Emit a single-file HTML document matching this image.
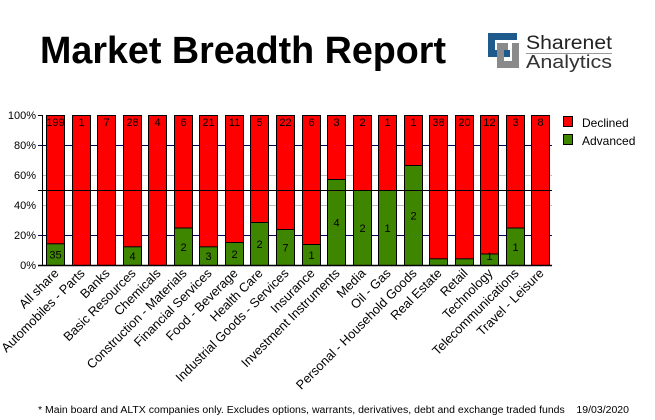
<!DOCTYPE html>
<html><head><meta charset="utf-8"><style>
html,body{margin:0;padding:0;background:#fff;}
svg{display:block;}
text{font-family:"Liberation Sans",sans-serif;}
</style></head><body>
<svg width="655" height="420" viewBox="0 0 655 420" xmlns="http://www.w3.org/2000/svg">
<rect width="655" height="420" fill="#fff"/>
<text x="40" y="63" font-size="38" font-weight="bold" textLength="406" lengthAdjust="spacingAndGlyphs">Market Breadth Report</text>
<!-- logo -->
<path d="M488 33H517V40H495V50H510V57H488Z" fill="#1f5a8c"/>
<path d="M512 43H519V68H497V61H512Z" fill="#8a8a8a"/>
<path d="M497 43H508V50H504V61H497Z" fill="#8a8a8a"/>
<text x="526" y="49" font-size="19" textLength="86" lengthAdjust="spacingAndGlyphs" fill="#222">Sharenet</text>
<line x1="526" y1="53.5" x2="612" y2="53.5" stroke="#999" stroke-width="1"/>
<text x="526" y="68" font-size="18" textLength="86" lengthAdjust="spacingAndGlyphs" fill="#333">Analytics</text>
<!-- grid -->
<g font-size="11" text-anchor="end">
<text x="36" y="119">100%</text><text x="36" y="149">80%</text><text x="36" y="179">60%</text>
<text x="36" y="209">40%</text><text x="36" y="239">20%</text><text x="36" y="269">0%</text>
</g>
<line x1="38" y1="145.5" x2="552" y2="145.5" stroke="#000060"/>
<line x1="38" y1="235.5" x2="552" y2="235.5" stroke="#000060"/>
<line x1="42" y1="175.5" x2="552" y2="175.5" stroke="#bbb"/>
<line x1="42" y1="205.5" x2="552" y2="205.5" stroke="#bbb"/>
<g id="bars" stroke="#000" stroke-width="1"></g>
<line x1="38" y1="190.5" x2="552" y2="190.5" stroke="#000"/>
<line x1="42.5" y1="115" x2="42.5" y2="266" stroke="#000"/>
<line x1="38" y1="265.5" x2="552" y2="265.5" stroke="#000" stroke-width="1.5"/>
<line x1="38" y1="115.5" x2="42" y2="115.5" stroke="#000"/>
<g id="labels" font-size="11"></g>
<!-- legend -->
<rect x="563.5" y="116.5" width="9" height="10" fill="#f00" stroke="#000"/>
<rect x="563.5" y="134.5" width="9" height="10" fill="#3f8600" stroke="#000"/>
<text x="582" y="127" font-size="12">Declined</text>
<text x="582" y="145" font-size="12">Advanced</text>
<text x="38" y="413" font-size="10" textLength="591" lengthAdjust="spacingAndGlyphs">* Main board and ALTX companies only. Excludes options, warrants, derivatives, debt and exchange traded funds &#160;&#160;&#160;19/03/2020</text>
</svg>
<script>
var d=[["All share",199,35,21.7],["Automobiles - Parts",1,"",0],["Banks",7,"",0],["Basic Resources",28,4,18.7],["Chemicals",4,"",0],["Construction - Materials",6,2,37.5],["Financial Services",21,3,18.7],["Food - Beverage",11,2,23],["Health Care",5,2,43],["Industrial Goods - Services",22,7,36],["Insurance",6,1,21],["Investment Instruments",3,4,86],["Media",2,2,75],["Oil - Gas",1,1,75],["Personal - Household Goods",1,2,100],["Real Estate",38,"",6.7],["Retail",20,"",6.7],["Technology",12,1,11.5],["Telecommunications",3,1,37.5],["Travel - Leisure",8,"",0]];
var ns="http://www.w3.org/2000/svg",b=document.getElementById("bars"),l=document.getElementById("labels");
function el(t,a,p,tx){var e=document.createElementNS(ns,t);for(var k in a)e.setAttribute(k,a[k]);if(tx!==undefined)e.textContent=tx;p.appendChild(e);return e;}
d.forEach(function(r,i){var x=Math.round(46+25.55*i)+0.5,cx=x+9,g=r[3];
el("rect",{x:x,y:115.5,width:18,height:150,fill:"#f00"},b);
if(g>0)el("rect",{x:x,y:265.5-g,width:18,height:g,fill:"#3f8600"},b);
el("text",{x:cx,y:126,"text-anchor":"middle","font-size":"11"},l,String(r[1]));
if(r[2]!=="")el("text",{x:cx,y:Math.min(265.5-g/2+4,260),"text-anchor":"middle","font-size":"11"},l,String(r[2]));
el("text",{x:cx+4,y:274,"text-anchor":"end","font-size":"12.8",transform:"rotate(-45 "+(cx+4)+" 274)"},l,r[0]);
});
</script>
</body></html>
